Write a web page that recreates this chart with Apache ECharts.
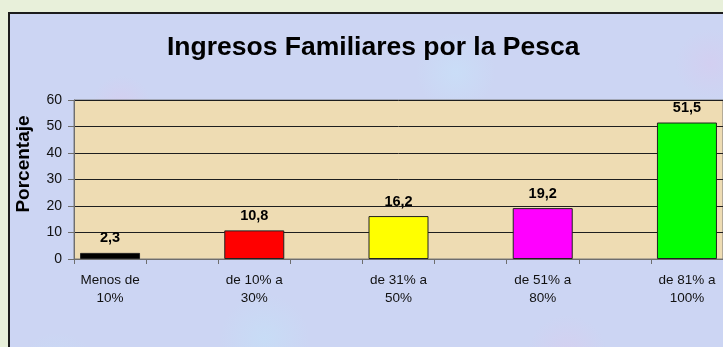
<!DOCTYPE html>
<html>
<head>
<meta charset="utf-8">
<script src="https://cdn.jsdelivr.net/npm/echarts@6/dist/echarts.min.js"></script>
<style>
  html, body { margin: 0; padding: 0; width: 723px; height: 347px; overflow: hidden; background: #E8F0DA; }
  #panel {
    position: absolute; left: 8px; top: 12px; width: 800px; height: 420px;
    border: 2px solid #1c1c1c; box-sizing: border-box;
    background-color: #CCD5F3;
    background-image:
      radial-gradient(circle at 14% 22%, rgba(222,200,236,0.45) 0, rgba(222,200,236,0) 30px),
      radial-gradient(circle at 32% 78%, rgba(196,226,248,0.55) 0, rgba(196,226,248,0) 45px),
      radial-gradient(circle at 56% 14%, rgba(200,228,250,0.55) 0, rgba(200,228,250,0) 40px),
      radial-gradient(circle at 70% 82%, rgba(222,202,236,0.45) 0, rgba(222,202,236,0) 40px),
      radial-gradient(circle at 88% 12%, rgba(218,200,238,0.45) 0, rgba(218,200,238,0) 35px),
      radial-gradient(circle at 6% 86%, rgba(198,224,246,0.5) 0, rgba(198,224,246,0) 40px);
  }
  #chart { position: absolute; left: 0; top: 0; width: 723px; height: 347px; }
</style>
</head>
<body>
<div id="panel"></div>
<div id="chart"></div>
<script>
// Income share from fishing, by household bracket
const categories = ['Menos de\n10%', 'de 10% a\n30%', 'de 31% a\n50%', 'de 51% a\n80%', 'de 81% a\n100%'];
const values = [2.3, 10.8, 16.2, 19.2, 51.5];
const barColors = ['#000000', '#FF0000', '#FFFF00', '#FF00FF', '#00FF00'];
const yTicks = [0, 10, 20, 30, 40, 50, 60];

// Each bracket is followed by an empty slot on the category axis
const axisCats = [];
const seriesData = [];
categories.forEach((c, i) => {
  axisCats.push(c);
  seriesData.push({ value: values[i], itemStyle: { color: barColors[i] } });
  if (i < categories.length - 1) {
    axisCats.push('');
    seriesData.push(null);
  }
});

const FONT = 'Liberation Sans, Arial, sans-serif';
const chart = echarts.init(document.getElementById('chart'), null, { renderer: 'canvas' });

chart.setOption({
  backgroundColor: 'transparent',
  animation: false,
  title: {
    text: 'Ingresos Familiares por la Pesca',
    left: 162,
    top: 29,
    textStyle: { fontFamily: FONT, fontWeight: 'bold', fontSize: 26.5, color: '#000' }
  },
  graphic: [{
    type: 'text',
    x: 24,
    y: 164,
    rotation: Math.PI / 2,
    style: {
      text: 'Porcentaje',
      font: 'bold 19px ' + FONT,
      fill: '#000',
      textAlign: 'center',
      textVerticalAlign: 'middle'
    }
  }],
  grid: {
    left: 74, top: 100, width: 652, height: 159,
    show: true,
    backgroundColor: '#EEDCB3',
    borderColor: '#7a7a7a',
    borderWidth: 1
  },
  xAxis: {
    type: 'category',
    data: axisCats,
    boundaryGap: true,
    axisLine: { lineStyle: { color: '#6e6e6e', width: 1 } },
    axisTick: { show: true, interval: 0, length: 5, lineStyle: { color: '#6e6e6e' } },
    axisLabel: {
      interval: 0, margin: 12,
      fontFamily: FONT, fontSize: 13.5, lineHeight: 18, color: '#111'
    }
  },
  yAxis: {
    type: 'value',
    min: yTicks[0],
    max: yTicks[yTicks.length - 1],
    interval: yTicks[1] - yTicks[0],
    axisLine: { show: true, lineStyle: { color: '#6e6e6e' } },
    axisTick: { show: true, length: 6, lineStyle: { color: '#6e6e6e' } },
    axisLabel: { margin: 12, fontFamily: FONT, fontSize: 14, color: '#111' },
    splitLine: { show: true, lineStyle: { color: '#1e1e1e', width: 1 } }
  },
  series: [{
    type: 'bar',
    data: seriesData,
    barWidth: 60,
    itemStyle: { borderColor: '#222', borderWidth: 1 },
    label: {
      show: true,
      position: 'top',
      distance: 7,
      fontFamily: FONT,
      fontWeight: 'bold',
      fontSize: 14.5,
      color: '#000',
      formatter: p => p.value.toFixed(1).replace('.', ',')
    }
  }]
});
</script>
</body>
</html>
